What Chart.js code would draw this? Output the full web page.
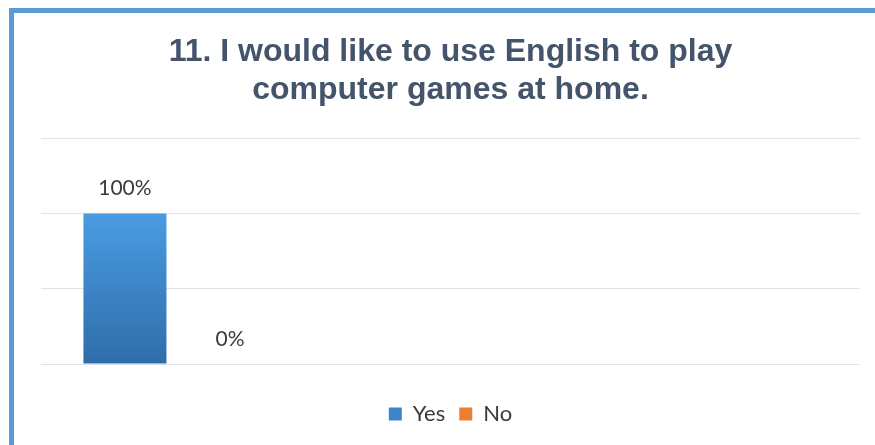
<!DOCTYPE html>
<html>
<head>
<meta charset="utf-8">
<script src="https://cdn.jsdelivr.net/npm/chart.js@4"></script>
<style>
  html, body { margin: 0; padding: 0; background: #fff; overflow: hidden; }
  #frame {
    position: absolute; left: 9px; top: 8px; right: 0; bottom: 0;
    border-left: 5px solid #5B9BD5; border-top: 5px solid #5B9BD5;
  }
  #chart { display: block; }
</style>
</head>
<body>
<div id="frame"><canvas id="chart" width="861" height="432"></canvas></div>
<script>
// chart data
const titleLines = ['11. I would like to use English to play', 'computer games at home.'];
const categories = ['', '', ''];
const yesValues = [100, null, null];
const noValues = [0, null, null];
const yTicks = [0, 50, 100, 150];

// colors
const yesTop = '#4A9CE3';
const yesBottom = '#2F6DA9';
const yesLegend = '#3C85CA';
const noColor = '#ED7D31';
const textColor = '#3A3A3A';

// vertical gradient for the Yes bar, from value 0 to value 100
function yesGradient(context) {
  const chart = context.chart;
  const y = chart.scales.y;
  if (!chart.chartArea || !y) return yesTop;
  const g = chart.ctx.createLinearGradient(0, y.getPixelForValue(100), 0, y.getPixelForValue(0));
  g.addColorStop(0, yesTop);
  g.addColorStop(1, yesBottom);
  return g;
}

// draws the percent labels above each bar
const valueLabels = {
  id: 'valueLabels',
  afterDatasetsDraw(chart) {
    const ctx = chart.ctx;
    ctx.save();
    ctx.font = '21px Lato';
    ctx.fillStyle = textColor;
    ctx.textAlign = 'center';
    ctx.textBaseline = 'middle';
    chart.data.datasets.forEach((ds, di) => {
      chart.getDatasetMeta(di).data.forEach((bar, i) => {
        const v = ds.data[i];
        if (v === null || v === undefined) return;
        ctx.fillText(v + '%', bar.x, bar.y - 25);
      });
    });
    ctx.restore();
  }
};

new Chart(document.getElementById('chart'), {
  type: 'bar',
  data: {
    labels: categories,
    datasets: [
      { label: 'Yes', data: yesValues, backgroundColor: yesGradient },
      { label: 'No', data: noValues, backgroundColor: noColor }
    ]
  },
  options: {
    responsive: false,
    animation: false,
    devicePixelRatio: 1,
    categoryPercentage: 0.77,
    barPercentage: 0.79,
    layout: { padding: { left: 27, right: 15, top: 0, bottom: 10 } },
    scales: {
      x: {
        ticks: { display: false },
        grid: { display: false },
        border: { display: false },
        afterFit(scale) { scale.height = 25; }
      },
      y: {
        min: 0,
        max: yTicks[yTicks.length - 1],
        afterBuildTicks(scale) { scale.ticks = yTicks.map(v => ({ value: v })); },
        ticks: { display: false },
        grid: { color: '#DFE2E6', drawTicks: false },
        border: { display: false },
        afterFit(scale) { scale.width = 0; }
      }
    },
    plugins: {
      title: {
        display: true,
        text: titleLines,
        color: '#44546A',
        font: { family: 'Liberation Sans', size: 32, weight: 'bold', lineHeight: 1.19 },
        padding: { top: 20, bottom: 29 }
      },
      legend: {
        position: 'bottom',
        labels: {
          boxWidth: 13,
          boxHeight: 13,
          padding: 14,
          color: textColor,
          font: { family: 'Lato', size: 22 },
          generateLabels(chart) {
            const items = Chart.defaults.plugins.legend.labels.generateLabels(chart);
            items[0].fillStyle = yesLegend;
            items[0].strokeStyle = yesLegend;
            return items;
          }
        }
      },
      tooltip: { enabled: false }
    }
  },
  plugins: [valueLabels]
});
</script>
</body>
</html>
